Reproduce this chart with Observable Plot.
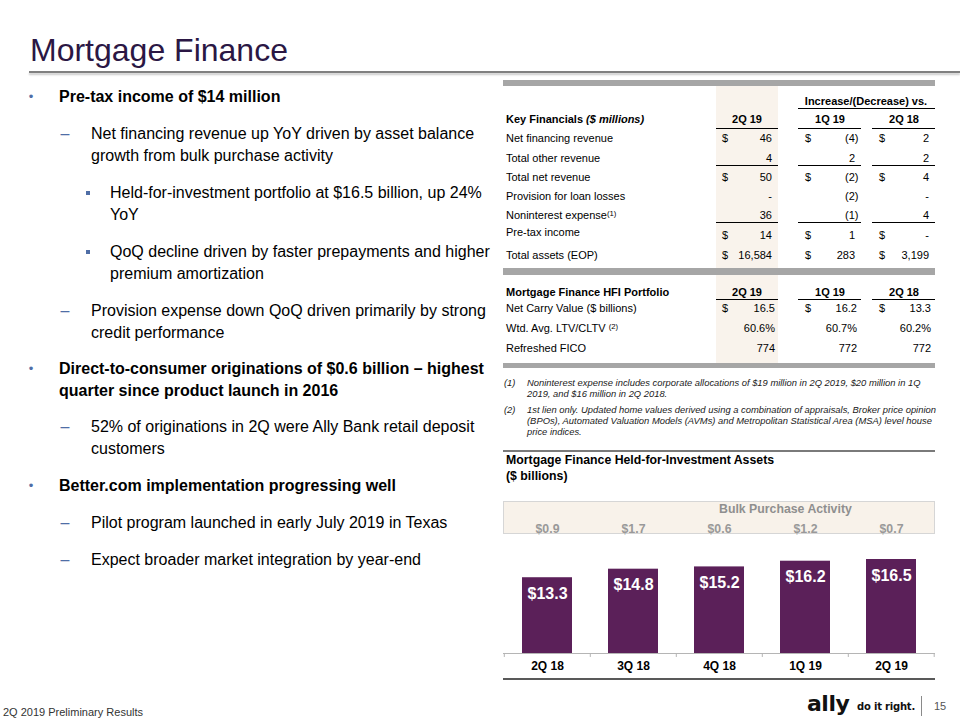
<!DOCTYPE html>
<html><head><meta charset="utf-8">
<script src="https://cdn.jsdelivr.net/npm/d3@7"></script>
<script src="https://cdn.jsdelivr.net/npm/@observablehq/plot@0.6"></script>
<style>
html,body{margin:0;padding:0;background:#fff;}
#page{position:relative;width:960px;height:720px;overflow:hidden;background:#fff;font-family:"Liberation Sans",Arial,sans-serif;color:#000;}
.abs{position:absolute;white-space:nowrap;}
sup{font-size:0.7em;vertical-align:0;position:relative;top:-0.45em;}
</style></head><body>
<div id="page"></div>
<script>
// ---------- chart data ----------
const quarters = ["2Q 18", "3Q 18", "4Q 18", "1Q 19", "2Q 19"];
const hfiAssets = [13.3, 14.8, 15.2, 16.2, 16.5];
const bulkPurchase = [0.9, 1.7, 0.6, 1.2, 0.7];

// ---------- key financials table ----------
const tableCols = ["2Q 19", "1Q 19", "2Q 18"];
const kfLabels = ["Net financing revenue", "Total other revenue", "Total net revenue", "Provision for loan losses", "Noninterest expense<sup>(1)</sup>", "Pre-tax income", "Total assets (EOP)"];
const kf2Q19 = ["46", "4", "50", "-", "36", "14", "16,584"];
const kfVs1Q19 = ["(4)", "2", "(2)", "(2)", "(1)", "1", "283"];
const kfVs2Q18 = ["2", "2", "4", "-", "4", "-", "3,199"];
const kfDollar = [true, false, true, false, false, true, true];

// ---------- HFI portfolio table ----------
const hfiLabels = ["Net Carry Value ($ billions)", "Wtd. Avg. LTV/CLTV <sup>(2)</sup>", "Refreshed FICO"];
const hfi2Q19 = ["16.5", "60.6%", "774"];
const hfi1Q19 = ["16.2", "60.7%", "772"];
const hfi2Q18 = ["13.3", "60.2%", "772"];
const hfiDollar = [true, false, false];

// ---------- bullets ----------
const bullets = [
  {lvl: 0, lines: ["Pre-tax income of $14 million"]},
  {lvl: 1, lines: ["Net financing revenue up YoY driven by asset balance", "growth from bulk purchase activity"]},
  {lvl: 2, lines: ["Held-for-investment portfolio at $16.5 billion, up 24%", "YoY"]},
  {lvl: 2, lines: ["QoQ decline driven by faster prepayments and higher", "premium amortization"]},
  {lvl: 1, lines: ["Provision expense down QoQ driven primarily by strong", "credit performance"]},
  {lvl: 0, lines: ["Direct-to-consumer originations of $0.6 billion \u2013 highest", "quarter since product launch in 2016"]},
  {lvl: 1, lines: ["52% of originations in 2Q were Ally Bank retail deposit", "customers"]},
  {lvl: 0, lines: ["Better.com implementation progressing well"]},
  {lvl: 1, lines: ["Pilot program launched in early July 2019 in Texas"]},
  {lvl: 1, lines: ["Expect broader market integration by year-end"]}
];
const bulletY = [97, 134, 193, 252, 311, 369, 427, 486, 523, 560];

const page = document.getElementById("page");
// cy = vertical centre of the FIRST line
function txt(s, x, cy, o = {}) {
  const d = document.createElement("div");
  d.className = "abs";
  d.innerHTML = s;
  const lh = o.lh || 20;
  d.style.top = (cy - lh / 2) + "px";
  d.style.lineHeight = lh + "px";
  d.style.fontSize = (o.size || 11) + "px";
  if (o.bold) d.style.fontWeight = o.bold === true ? "bold" : o.bold;
  if (o.italic) d.style.fontStyle = "italic";
  d.style.color = o.color || "#000";
  if (o.family) d.style.fontFamily = o.family;
  if (o.spacing) d.style.letterSpacing = o.spacing;
  const a = o.align || "left";
  if (a === "left") d.style.left = x + "px";
  else if (a === "right") { d.style.left = (x - 300) + "px"; d.style.width = "300px"; d.style.textAlign = "right"; }
  else { d.style.left = (x - 200) + "px"; d.style.width = "400px"; d.style.textAlign = "center"; }
  page.appendChild(d);
  return d;
}
function box(x, y, w, h, css) {
  const d = document.createElement("div");
  d.className = "abs";
  d.style.left = x + "px"; d.style.top = y + "px"; d.style.width = w + "px"; d.style.height = h + "px";
  Object.assign(d.style, css);
  page.appendChild(d);
  return d;
}

// ---------- title ----------
txt("Mortgage Finance", 30, 50, {size: 32, lh: 40, color: "#2b1744"});
box(29, 71, 931, 2, {background: "#808080", boxShadow: "0 2px 2px rgba(0,0,0,0.22)"});

// ---------- bullets ----------
const bulletColor = "#4f6ea6";
bullets.forEach((b, i) => {
  const cy = bulletY[i];
  const tx = [59, 91, 110][b.lvl];
  txt(b.lines.join("<br>"), tx, cy, {size: 16, lh: 22, bold: b.lvl === 0});
  if (b.lvl === 0) txt("\u2022", 31, cy, {size: 13, lh: 22, align: "center", color: bulletColor});
  else if (b.lvl === 1) txt("\u2013", 65, cy, {size: 16, lh: 22, align: "center", color: bulletColor});
  else box(86, cy - 2, 4, 4, {background: bulletColor});
});

// ---------- table geometry ----------
const beige = "#f9f3ec";
box(716, 85, 62, 278, {background: beige});
box(503, 80, 432, 6, {background: "#a6a6a6"});
box(503, 268, 432, 7, {background: "#a6a6a6"});
box(503, 363, 432, 5, {background: "#a6a6a6"});

const colUnder = [[716, 778], [798, 861], [872, 935]];
const colCenter = [747, 830, 904];
const dollarX = [722, 805, 879];
const kfRight = [772, 855, 929];
const hfiRight = [775, 857, 931];

txt("Increase/(Decrease) vs.", 866, 101, {bold: true, align: "center"});
box(798, 108, 137, 1, {background: "#000"});
txt("Key Financials <i>($ millions)</i>", 506, 119, {bold: true});
tableCols.forEach((c, j) => {
  txt(c, colCenter[j], 119, {bold: true, align: "center"});
  box(colUnder[j][0], 128, colUnder[j][1] - colUnder[j][0], 1, {background: "#000"});
});
const kfY = [138, 158, 177, 196, 215, 233, 255];
const kfCols = [kf2Q19, kfVs1Q19, kfVs2Q18];
kfLabels.forEach((l, i) => {
  const cy = kfY[i];
  txt(l, 506, i === 5 ? cy - 1 : cy);
  kfCols.forEach((col, j) => {
    const v = col[i];
    const paren = v.endsWith(")");
    const vy = cy + (i === 5 ? 2 : 0);
    txt(v, kfRight[j] + (paren ? 3.5 : 0), vy, {align: "right"});
    if (kfDollar[i]) txt("$", dollarX[j], vy);
  });
});
// underlines after "Total other revenue" and "Noninterest expense"
[165, 222].forEach(y => colUnder.forEach(u => box(u[0], y, u[1] - u[0], 1, {background: "#000"})));

// HFI portfolio table
txt("Mortgage Finance HFI Portfolio", 506, 292, {bold: true});
tableCols.forEach((c, j) => {
  txt(c, colCenter[j], 292, {bold: true, align: "center"});
  box(colUnder[j][0], 299, colUnder[j][1] - colUnder[j][0], 1, {background: "#000"});
});
const hfiY = [308, 328, 348];
const hfiCols = [hfi2Q19, hfi1Q19, hfi2Q18];
hfiLabels.forEach((l, i) => {
  txt(l, 506, hfiY[i]);
  hfiCols.forEach((col, j) => {
    txt(col[i], hfiRight[j], hfiY[i], {align: "right"});
    if (hfiDollar[i]) txt("$", dollarX[j], hfiY[i]);
  });
});

// footnotes
const fnStyle = {size: 9.4, lh: 11, italic: true, color: "#1a1a1a"};
txt("(1)", 504, 382, fnStyle);
txt("Noninterest expense includes corporate allocations of $19 million in 2Q 2019, $20 million in 1Q<br>2019, and $16 million in 2Q 2018.", 527, 382, fnStyle);
txt("(2)", 504, 409, fnStyle);
txt("1st lien only. Updated home values derived using a combination of appraisals, Broker price opinion<br>(BPOs), Automated Valuation Models (AVMs) and Metropolitan Statistical Area (MSA) level house<br>price indices.", 527, 409, fnStyle);
box(503, 450, 432, 2, {background: "#7a7a7a"});

// chart titles
txt("Mortgage Finance Held-for-Investment Assets", 506, 460, {size: 12.3, bold: true, lh: 16});
txt("($ billions)", 506, 476, {size: 12.3, bold: true, lh: 16});

// bulk purchase box
box(503, 501, 430, 31, {background: "#f8f2ea", border: "1px solid #d6d6d6"});
txt("Bulk Purchase Activity", 719, 509, {size: 12.3, bold: true, lh: 16, color: "#8f8f8f"});

// bottom rule of chart
box(503, 678, 432, 2, {background: "#595959"});

// ---------- the chart ----------
const chartData = quarters.map((q, i) => ({quarter: q, assets: hfiAssets[i], bulk: bulkPurchase[i]}));
const fmt = v => "$" + v.toFixed(1);
const W = 432, H = 190;
const step = W / quarters.length;
const chart = Plot.plot({
  width: W, height: H,
  marginLeft: 0, marginRight: 0, marginTop: 64, marginBottom: 32,
  x: {domain: quarters, paddingInner: 0.42, paddingOuter: 0.21, label: null},
  y: {domain: [0, d3.max(hfiAssets)], axis: null},
  style: {fontFamily: '"Liberation Sans", Arial, sans-serif', background: "transparent", overflow: "visible"},
  marks: [
    Plot.barY(chartData, {x: "quarter", y: "assets", fill: "#5b2059"}),
    Plot.ruleY([0], {stroke: "#b5b5b5"}),
    Plot.ruleX(quarters, {x: d => d, y1: 0, y2: -0.7, dx: -step / 2, stroke: "#b5b5b5"}),
    Plot.ruleX(quarters.slice(-1), {x: d => d, y1: 0, y2: -0.7, dx: step / 2 - 0.5, stroke: "#b5b5b5"}),
    Plot.text(chartData, {x: "quarter", y: "assets", text: d => fmt(d.assets), dy: 16, fill: "white", fontSize: 16, fontWeight: "bold"}),
    Plot.text(chartData, {x: "quarter", text: d => fmt(d.bulk), frameAnchor: "top", dy: -35, fill: "#999999", fontSize: 12.3, fontWeight: "bold"}),
    Plot.axisX({tickSize: 0, tickPadding: 8, fontSize: 12, fontWeight: "bold", color: "#000", label: null})
  ]
});
const holder = box(503, 495, W, H, {});
holder.appendChild(chart);

// ---------- footer ----------
txt("2Q 2019 Preliminary Results", 3, 712, {size: 11, lh: 14, color: "#333"});
txt("ally", 807, 704, {size: 22, lh: 26, bold: true, color: "#111", family: "'DejaVu Sans', 'Liberation Sans', Arial", spacing: "-0.5px"});
txt("do it right.", 857, 707, {size: 10, lh: 14, bold: true, color: "#111", family: "'DejaVu Sans', 'Liberation Sans', Arial", spacing: "-0.2px"});
box(921, 696, 1, 20, {background: "#8a8a8a"});
txt("15", 934, 706, {size: 11, lh: 14, color: "#555"});
</script>
</body></html>
